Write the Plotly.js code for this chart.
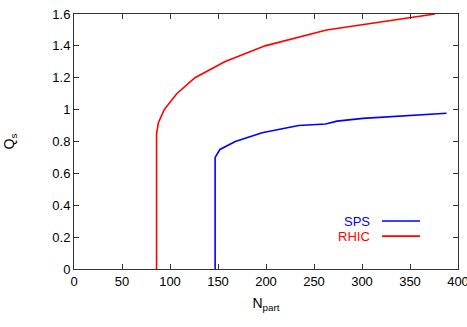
<!DOCTYPE html>
<html>
<head>
<meta charset="utf-8">
<script src="https://cdn.plot.ly/plotly-3.0.1.min.js"></script>
<style>
  html, body { margin: 0; padding: 0; background: #fff; }
  #chart { width: 467px; height: 327px; }
</style>
</head>
<body>
<div id="chart"></div>
<script>
'use strict';

// values
const rhicNpart = [86, 86, 88, 94, 107, 126, 157, 199, 263, 376];
const rhicQs = [0, 0.85, 0.92, 1.0, 1.1, 1.2, 1.3, 1.4, 1.5, 1.6];

const spsNpart = [147, 147, 152, 168, 196, 234, 262, 274, 301, 388];
const spsQs = [0, 0.70, 0.75, 0.80, 0.855, 0.90, 0.91, 0.928, 0.945, 0.977];

const seriesNames = ['SPS', 'RHIC'];
const seriesColors = ['#0000ff', '#ff0000'];

const xTicks = [0, 50, 100, 150, 200, 250, 300, 350, 400];
const yTicks = [0, 0.2, 0.4, 0.6, 0.8, 1, 1.2, 1.4, 1.6];

const FONT = 'Liberation Sans, Arial, Helvetica, sans-serif';

function main() {
  const sps = {
    x: spsNpart,
    y: spsQs,
    type: 'scatter',
    mode: 'lines',
    name: seriesNames[0],
    line: {color: seriesColors[0], width: 1.6},
  };
  const rhic = {
    x: rhicNpart,
    y: rhicQs,
    type: 'scatter',
    mode: 'lines',
    name: seriesNames[1],
    line: {color: seriesColors[1], width: 1.6},
  };

  const axis = {
    showgrid: false,
    zeroline: false,
    showline: true,
    linecolor: '#333',
    linewidth: 1,
    mirror: 'ticks',
    ticks: 'inside',
    ticklen: 5,
    tickcolor: '#333',
    ticklabeloverflow: 'allow',
    tickfont: {family: FONT, size: 13, color: '#000'},
  };

  // gnuplot-style key: label on the left, line sample on the right
  const keyY = [0.188, 0.129];
  const annotations = seriesNames.map((name, i) => ({
    xref: 'paper', yref: 'paper',
    x: 0.776, y: keyY[i],
    xanchor: 'right', yanchor: 'middle',
    text: name,
    showarrow: false,
    font: {family: FONT, size: 13, color: seriesColors[i]},
  }));
  const shapes = seriesNames.map((name, i) => ({
    type: 'line',
    xref: 'paper', yref: 'paper',
    x0: 0.802, x1: 0.901, y0: keyY[i], y1: keyY[i],
    line: {color: seriesColors[i], width: 1.6},
  }));

  const layout = {
    width: 467,
    height: 327,
    margin: {l: 74, r: 9, t: 14, b: 58},
    paper_bgcolor: '#fff',
    plot_bgcolor: '#fff',
    showlegend: false,
    font: {family: FONT, size: 13, color: '#000'},
    xaxis: Object.assign({}, axis, {
      range: [0, 400],
      tickvals: xTicks,
      title: {text: 'N<sub>part</sub>', font: {family: FONT, size: 14}, standoff: 10},
    }),
    yaxis: Object.assign({}, axis, {
      range: [0, 1.6],
      tickvals: yTicks,
      title: {text: 'Q<sub>s</sub>', font: {family: FONT, size: 14}, standoff: 34},
    }),
    annotations,
    shapes,
  };

  Plotly.newPlot('chart', [sps, rhic], layout, {displayModeBar: false, staticPlot: true});
}

main();
</script>
</body>
</html>
